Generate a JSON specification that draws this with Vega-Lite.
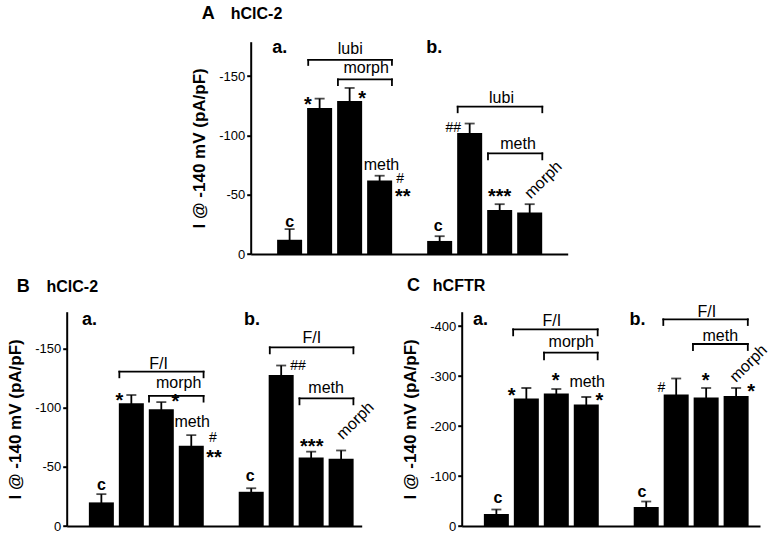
{
  "$schema": "https://vega.github.io/schema/vega-lite/v6.json",
  "autosize": {"type": "none"},
  "padding": {"left": 66.7, "top": 41.7, "right": 710.3, "bottom": 493.3},
  "background": "white",
  "bounds": "flush",
  "spacing": 270,
  "config": {
    "view": {"stroke": null},
    "font": "Liberation Sans",
    "axis": {"grid": false, "domainColor": "black", "domainWidth": 2, "tickColor": "black", "tickWidth": 2, "tickSize": 4, "labelColor": "black", "labelFontSize": 13, "labelPadding": 2, "titleColor": "black", "titleFontSize": 17, "titleFontWeight": "bold", "titlePadding": 10},
    "text": {"color": "black"}
  },
  "datasets": {
    "bars": [
      {"panel": "A", "group": "a", "treatment": "c", "slot": 0, "value": -12, "err": 9},
      {"panel": "A", "group": "a", "treatment": "lubi", "slot": 1, "value": -123, "err": 8},
      {"panel": "A", "group": "a", "treatment": "lubi+morph", "slot": 2, "value": -129, "err": 11},
      {"panel": "A", "group": "a", "treatment": "lubi+morph+meth", "slot": 3, "value": -62, "err": 4},
      {"panel": "A", "group": "b", "treatment": "c", "slot": 5, "value": -11, "err": 4},
      {"panel": "A", "group": "b", "treatment": "lubi", "slot": 6, "value": -102, "err": 8},
      {"panel": "A", "group": "b", "treatment": "lubi+meth", "slot": 7, "value": -37, "err": 5},
      {"panel": "A", "group": "b", "treatment": "lubi+meth+morph", "slot": 8, "value": -35, "err": 7},
      {"panel": "B", "group": "a", "treatment": "c", "slot": 0, "value": -20, "err": 7},
      {"panel": "B", "group": "a", "treatment": "F/I", "slot": 1, "value": -104, "err": 7},
      {"panel": "B", "group": "a", "treatment": "F/I+morph", "slot": 2, "value": -99, "err": 6},
      {"panel": "B", "group": "a", "treatment": "F/I+morph+meth", "slot": 3, "value": -68, "err": 9},
      {"panel": "B", "group": "b", "treatment": "c", "slot": 5, "value": -29, "err": 3},
      {"panel": "B", "group": "b", "treatment": "F/I", "slot": 6, "value": -128, "err": 8},
      {"panel": "B", "group": "b", "treatment": "F/I+meth", "slot": 7, "value": -58, "err": 5},
      {"panel": "B", "group": "b", "treatment": "F/I+meth+morph", "slot": 8, "value": -57, "err": 7},
      {"panel": "C", "group": "a", "treatment": "c", "slot": 0, "value": -24, "err": 9},
      {"panel": "C", "group": "a", "treatment": "F/I", "slot": 1, "value": -255, "err": 21},
      {"panel": "C", "group": "a", "treatment": "F/I+morph", "slot": 2, "value": -265, "err": 9},
      {"panel": "C", "group": "a", "treatment": "F/I+morph+meth", "slot": 3, "value": -243, "err": 15},
      {"panel": "C", "group": "b", "treatment": "c", "slot": 5, "value": -38, "err": 11},
      {"panel": "C", "group": "b", "treatment": "F/I", "slot": 6, "value": -263, "err": 32},
      {"panel": "C", "group": "b", "treatment": "F/I+meth", "slot": 7, "value": -257, "err": 19},
      {"panel": "C", "group": "b", "treatment": "F/I+meth+morph", "slot": 8, "value": -260, "err": 16}
    ],
    "brackets": [
      {"panel": "A", "x1": 0.62, "x2": 3.41, "y": -163.6, "yb": -159.4},
      {"panel": "A", "x1": 1.61, "x2": 3.41, "y": -147.3, "yb": -142.5},
      {"panel": "A", "x1": 5.6, "x2": 8.42, "y": -124.2, "yb": -119.5},
      {"panel": "A", "x1": 6.61, "x2": 8.42, "y": -84.9, "yb": -79.8},
      {"panel": "B", "x1": 0.6, "x2": 3.41, "y": -130.8, "yb": -126},
      {"panel": "B", "x1": 1.59, "x2": 3.41, "y": -110.2, "yb": -105.4},
      {"panel": "B", "x1": 5.62, "x2": 8.41, "y": -151.4, "yb": -146.3},
      {"panel": "B", "x1": 6.61, "x2": 8.41, "y": -108.2, "yb": -103.1},
      {"panel": "C", "x1": 0.56, "x2": 3.38, "y": -393.3, "yb": -381.3},
      {"panel": "C", "x1": 1.59, "x2": 3.38, "y": -346.7, "yb": -333.3},
      {"panel": "C", "x1": 5.57, "x2": 8.39, "y": -413.3, "yb": -402},
      {"panel": "C", "x1": 6.56, "x2": 8.39, "y": -364, "yb": -352}
    ],
    "notes": [
      {"panel": "A", "kind": "big", "text": "A", "x": -2.93, "y": -197.9},
      {"panel": "A", "kind": "sub", "text": "hClC-2", "x": -1.96, "y": -197.9},
      {"panel": "A", "kind": "big", "text": "a.", "x": -0.58, "y": -169.2},
      {"panel": "A", "kind": "big", "text": "b.", "x": 4.55, "y": -169.2},
      {"panel": "A", "kind": "c", "text": "c", "x": 0, "y": -22.8},
      {"panel": "A", "kind": "star", "text": "*", "x": 0.61, "y": -120.6},
      {"panel": "A", "kind": "star", "text": "*", "x": 2.42, "y": -125.9},
      {"panel": "A", "kind": "label", "text": "meth", "x": 3.06, "y": -70.8},
      {"panel": "A", "kind": "hash", "text": "#", "x": 3.68, "y": -59.9},
      {"panel": "A", "kind": "star", "text": "**", "x": 3.77, "y": -42.6},
      {"panel": "A", "kind": "label", "text": "lubi", "x": 2.02, "y": -168.6},
      {"panel": "A", "kind": "label", "text": "morph", "x": 2.55, "y": -152.4},
      {"panel": "A", "kind": "c", "text": "c", "x": 4.95, "y": -19.4},
      {"panel": "A", "kind": "hash", "text": "##", "x": 5.45, "y": -102.9},
      {"panel": "A", "kind": "label", "text": "lubi", "x": 7.06, "y": -127.6},
      {"panel": "A", "kind": "label", "text": "meth", "x": 7.61, "y": -88.3},
      {"panel": "A", "kind": "star", "text": "***", "x": 7.0, "y": -42.7},
      {"panel": "A", "kind": "rot", "text": "morph", "x": 8.45, "y": -62.4},
      {"panel": "B", "kind": "big", "text": "B", "x": -2.82, "y": -198.6},
      {"panel": "B", "kind": "sub", "text": "hClC-2", "x": -1.83, "y": -198.6},
      {"panel": "B", "kind": "big", "text": "a.", "x": -0.65, "y": -170.3},
      {"panel": "B", "kind": "big", "text": "b.", "x": 4.76, "y": -170.3},
      {"panel": "B", "kind": "c", "text": "c", "x": 0, "y": -30.5},
      {"panel": "B", "kind": "star", "text": "*", "x": 0.6, "y": -100.8},
      {"panel": "B", "kind": "label", "text": "F/I", "x": 1.91, "y": -133},
      {"panel": "B", "kind": "label", "text": "morph", "x": 2.58, "y": -116.7},
      {"panel": "B", "kind": "star", "text": "*", "x": 2.47, "y": -99.7},
      {"panel": "B", "kind": "label", "text": "meth", "x": 3.03, "y": -83.5},
      {"panel": "B", "kind": "hash", "text": "#", "x": 3.72, "y": -71.2},
      {"panel": "B", "kind": "star", "text": "**", "x": 3.76, "y": -52.3},
      {"panel": "B", "kind": "c", "text": "c", "x": 4.97, "y": -38.1},
      {"panel": "B", "kind": "label", "text": "F/I", "x": 7.02, "y": -154.8},
      {"panel": "B", "kind": "hash", "text": "##", "x": 6.56, "y": -132.2},
      {"panel": "B", "kind": "label", "text": "meth", "x": 7.5, "y": -112.4},
      {"panel": "B", "kind": "star", "text": "***", "x": 7.02, "y": -62.1},
      {"panel": "B", "kind": "rot", "text": "morph", "x": 8.47, "y": -89.2},
      {"panel": "C", "kind": "big", "text": "C", "x": -2.98, "y": -470.6},
      {"panel": "C", "kind": "sub", "text": "hCFTR", "x": -2.12, "y": -470.6},
      {"panel": "C", "kind": "big", "text": "a.", "x": -0.78, "y": -402},
      {"panel": "C", "kind": "big", "text": "b.", "x": 4.44, "y": -402},
      {"panel": "C", "kind": "c", "text": "c", "x": 0.05, "y": -45.3},
      {"panel": "C", "kind": "star", "text": "*", "x": 0.51, "y": -248},
      {"panel": "C", "kind": "label", "text": "F/I", "x": 1.85, "y": -400},
      {"panel": "C", "kind": "label", "text": "morph", "x": 2.5, "y": -357.3},
      {"panel": "C", "kind": "star", "text": "*", "x": 1.98, "y": -278},
      {"panel": "C", "kind": "label", "text": "meth", "x": 3.03, "y": -277.3},
      {"panel": "C", "kind": "star", "text": "*", "x": 3.44, "y": -238},
      {"panel": "C", "kind": "c", "text": "c", "x": 4.86, "y": -58.7},
      {"panel": "C", "kind": "hash", "text": "#", "x": 5.51, "y": -268.7},
      {"panel": "C", "kind": "label", "text": "F/I", "x": 7.02, "y": -418.7},
      {"panel": "C", "kind": "label", "text": "meth", "x": 7.47, "y": -370.7},
      {"panel": "C", "kind": "star", "text": "*", "x": 6.98, "y": -278},
      {"panel": "C", "kind": "rot", "text": "morph", "x": 8.41, "y": -325.3},
      {"panel": "C", "kind": "star", "text": "*", "x": 8.5, "y": -256.7}
    ]
  },
  "vconcat": [
    {
      "bounds": "flush",
      "spacing": 100,
      "hconcat": [
        {"width": 83.3, "height": 212.3, "data": {"values": [{}]}, "mark": {"type": "text", "text": ""}, "encoding": {}},
        {
          "width": 317, "height": 212.3,
          "resolve": {"axis": {"x": "independent", "y": "independent"}},
          "layer": [
            {"data": {"name": "bars"}, "transform": [{"filter": "datum.panel == 'A'"}], "mark": {"type": "bar", "width": 25, "color": "black"},
             "encoding": {"x": {"field": "slot", "type": "quantitative", "scale": {"domain": [-1.13, 9.1], "nice": false, "zero": false}, "axis": {"labels": false, "ticks": false, "title": null}},
                          "y": {"field": "value", "type": "quantitative", "scale": {"domain": [0, -179], "nice": false, "zero": false}, "axis": {"title": "I @ -140 mV (pA/pF)", "values": [0, -50, -100, -150], "labelExpr": "datum.value == 0 ? '0' : '-' + (-datum.value)"}}}},
            {"data": {"name": "bars"}, "transform": [{"filter": "datum.panel == 'A'"}], "mark": {"type": "errorbar", "ticks": true, "size": 10, "thickness": 1.8, "color": "black"},
             "encoding": {"x": {"field": "slot", "type": "quantitative", "axis": null}, "y": {"field": "value", "type": "quantitative", "axis": null}, "yError": {"field": "err"}}},
            {"data": {"name": "brackets"}, "transform": [{"filter": "datum.panel == 'A'"}], "mark": {"type": "rule", "color": "black", "strokeWidth": 1.8, "strokeCap": "square"},
             "encoding": {"x": {"field": "x1", "type": "quantitative", "axis": null}, "x2": {"field": "x2"}, "y": {"field": "y", "type": "quantitative", "axis": null}}},
            {"data": {"name": "brackets"}, "transform": [{"filter": "datum.panel == 'A'"}], "mark": {"type": "rule", "color": "black", "strokeWidth": 1.8, "strokeCap": "square"},
             "encoding": {"x": {"field": "x1", "type": "quantitative", "axis": null}, "y": {"field": "y", "type": "quantitative", "axis": null}, "y2": {"field": "yb"}}},
            {"data": {"name": "brackets"}, "transform": [{"filter": "datum.panel == 'A'"}], "mark": {"type": "rule", "color": "black", "strokeWidth": 1.8, "strokeCap": "square"},
             "encoding": {"x": {"field": "x2", "type": "quantitative", "axis": null}, "y": {"field": "y", "type": "quantitative", "axis": null}, "y2": {"field": "yb"}}},
            {"data": {"name": "notes"}, "transform": [{"filter": "datum.panel == 'A' && datum.kind == 'big'"}], "mark": {"type": "text", "fontSize": 18, "fontWeight": "bold", "align": "left", "baseline": "alphabetic"},
             "encoding": {"x": {"field": "x", "type": "quantitative", "axis": null}, "y": {"field": "y", "type": "quantitative", "axis": null}, "text": {"field": "text"}}},
            {"data": {"name": "notes"}, "transform": [{"filter": "datum.panel == 'A' && datum.kind == 'sub'"}], "mark": {"type": "text", "fontSize": 16, "fontWeight": "bold", "align": "left", "baseline": "alphabetic"},
             "encoding": {"x": {"field": "x", "type": "quantitative", "axis": null}, "y": {"field": "y", "type": "quantitative", "axis": null}, "text": {"field": "text"}}},
            {"data": {"name": "notes"}, "transform": [{"filter": "datum.panel == 'A' && datum.kind == 'label'"}], "mark": {"type": "text", "fontSize": 16, "align": "center", "baseline": "alphabetic"},
             "encoding": {"x": {"field": "x", "type": "quantitative", "axis": null}, "y": {"field": "y", "type": "quantitative", "axis": null}, "text": {"field": "text"}}},
            {"data": {"name": "notes"}, "transform": [{"filter": "datum.panel == 'A' && datum.kind == 'rot'"}], "mark": {"type": "text", "fontSize": 16, "align": "center", "baseline": "middle", "angle": 315},
             "encoding": {"x": {"field": "x", "type": "quantitative", "axis": null}, "y": {"field": "y", "type": "quantitative", "axis": null}, "text": {"field": "text"}}},
            {"data": {"name": "notes"}, "transform": [{"filter": "datum.panel == 'A' && datum.kind == 'c'"}], "mark": {"type": "text", "fontSize": 16, "fontWeight": "bold", "align": "center", "baseline": "alphabetic"},
             "encoding": {"x": {"field": "x", "type": "quantitative", "axis": null}, "y": {"field": "y", "type": "quantitative", "axis": null}, "text": {"field": "text"}}},
            {"data": {"name": "notes"}, "transform": [{"filter": "datum.panel == 'A' && datum.kind == 'star'"}], "mark": {"type": "text", "fontSize": 20, "fontWeight": "bold", "align": "center", "baseline": "alphabetic"},
             "encoding": {"x": {"field": "x", "type": "quantitative", "axis": null}, "y": {"field": "y", "type": "quantitative", "axis": null}, "text": {"field": "text"}}},
            {"data": {"name": "notes"}, "transform": [{"filter": "datum.panel == 'A' && datum.kind == 'hash'"}], "mark": {"type": "text", "fontSize": 14, "align": "center", "baseline": "alphabetic"},
             "encoding": {"x": {"field": "x", "type": "quantitative", "axis": null}, "y": {"field": "y", "type": "quantitative", "axis": null}, "text": {"field": "text"}}}
          ]
        }
      ]
    },
    {
      "bounds": "flush",
      "spacing": 100,
      "hconcat": [
        {
          "width": 295, "height": 214.3,
          "resolve": {"axis": {"x": "independent", "y": "independent"}},
          "layer": [
            {"data": {"name": "bars"}, "transform": [{"filter": "datum.panel == 'B'"}], "mark": {"type": "bar", "width": 25, "color": "black"},
             "encoding": {"x": {"field": "slot", "type": "quantitative", "scale": {"domain": [-0.99, 8.52], "nice": false, "zero": false}, "axis": {"labels": false, "ticks": false, "title": null}},
                          "y": {"field": "value", "type": "quantitative", "scale": {"domain": [0, -181.6], "nice": false, "zero": false}, "axis": {"title": "I @ -140 mV (pA/pF)", "values": [0, -50, -100, -150], "labelExpr": "datum.value == 0 ? '0' : '-' + (-datum.value)"}}}},
            {"data": {"name": "bars"}, "transform": [{"filter": "datum.panel == 'B'"}], "mark": {"type": "errorbar", "ticks": true, "size": 10, "thickness": 1.8, "color": "black"},
             "encoding": {"x": {"field": "slot", "type": "quantitative", "axis": null}, "y": {"field": "value", "type": "quantitative", "axis": null}, "yError": {"field": "err"}}},
            {"data": {"name": "brackets"}, "transform": [{"filter": "datum.panel == 'B'"}], "mark": {"type": "rule", "color": "black", "strokeWidth": 1.8, "strokeCap": "square"},
             "encoding": {"x": {"field": "x1", "type": "quantitative", "axis": null}, "x2": {"field": "x2"}, "y": {"field": "y", "type": "quantitative", "axis": null}}},
            {"data": {"name": "brackets"}, "transform": [{"filter": "datum.panel == 'B'"}], "mark": {"type": "rule", "color": "black", "strokeWidth": 1.8, "strokeCap": "square"},
             "encoding": {"x": {"field": "x1", "type": "quantitative", "axis": null}, "y": {"field": "y", "type": "quantitative", "axis": null}, "y2": {"field": "yb"}}},
            {"data": {"name": "brackets"}, "transform": [{"filter": "datum.panel == 'B'"}], "mark": {"type": "rule", "color": "black", "strokeWidth": 1.8, "strokeCap": "square"},
             "encoding": {"x": {"field": "x2", "type": "quantitative", "axis": null}, "y": {"field": "y", "type": "quantitative", "axis": null}, "y2": {"field": "yb"}}},
            {"data": {"name": "notes"}, "transform": [{"filter": "datum.panel == 'B' && datum.kind == 'big'"}], "mark": {"type": "text", "fontSize": 18, "fontWeight": "bold", "align": "left", "baseline": "alphabetic"},
             "encoding": {"x": {"field": "x", "type": "quantitative", "axis": null}, "y": {"field": "y", "type": "quantitative", "axis": null}, "text": {"field": "text"}}},
            {"data": {"name": "notes"}, "transform": [{"filter": "datum.panel == 'B' && datum.kind == 'sub'"}], "mark": {"type": "text", "fontSize": 16, "fontWeight": "bold", "align": "left", "baseline": "alphabetic"},
             "encoding": {"x": {"field": "x", "type": "quantitative", "axis": null}, "y": {"field": "y", "type": "quantitative", "axis": null}, "text": {"field": "text"}}},
            {"data": {"name": "notes"}, "transform": [{"filter": "datum.panel == 'B' && datum.kind == 'label'"}], "mark": {"type": "text", "fontSize": 16, "align": "center", "baseline": "alphabetic"},
             "encoding": {"x": {"field": "x", "type": "quantitative", "axis": null}, "y": {"field": "y", "type": "quantitative", "axis": null}, "text": {"field": "text"}}},
            {"data": {"name": "notes"}, "transform": [{"filter": "datum.panel == 'B' && datum.kind == 'rot'"}], "mark": {"type": "text", "fontSize": 16, "align": "center", "baseline": "middle", "angle": 315},
             "encoding": {"x": {"field": "x", "type": "quantitative", "axis": null}, "y": {"field": "y", "type": "quantitative", "axis": null}, "text": {"field": "text"}}},
            {"data": {"name": "notes"}, "transform": [{"filter": "datum.panel == 'B' && datum.kind == 'c'"}], "mark": {"type": "text", "fontSize": 16, "fontWeight": "bold", "align": "center", "baseline": "alphabetic"},
             "encoding": {"x": {"field": "x", "type": "quantitative", "axis": null}, "y": {"field": "y", "type": "quantitative", "axis": null}, "text": {"field": "text"}}},
            {"data": {"name": "notes"}, "transform": [{"filter": "datum.panel == 'B' && datum.kind == 'star'"}], "mark": {"type": "text", "fontSize": 20, "fontWeight": "bold", "align": "center", "baseline": "alphabetic"},
             "encoding": {"x": {"field": "x", "type": "quantitative", "axis": null}, "y": {"field": "y", "type": "quantitative", "axis": null}, "text": {"field": "text"}}},
            {"data": {"name": "notes"}, "transform": [{"filter": "datum.panel == 'B' && datum.kind == 'hash'"}], "mark": {"type": "text", "fontSize": 14, "align": "center", "baseline": "alphabetic"},
             "encoding": {"x": {"field": "x", "type": "quantitative", "axis": null}, "y": {"field": "y", "type": "quantitative", "axis": null}, "text": {"field": "text"}}}
          ]
        },
        {
          "width": 298.3, "height": 214.3,
          "resolve": {"axis": {"x": "independent", "y": "independent"}},
          "layer": [
            {"data": {"name": "bars"}, "transform": [{"filter": "datum.panel == 'C'"}], "mark": {"type": "bar", "width": 25, "color": "black"},
             "encoding": {"x": {"field": "slot", "type": "quantitative", "scale": {"domain": [-0.99, 8.63], "nice": false, "zero": false}, "axis": {"labels": false, "ticks": false, "title": null}},
                          "y": {"field": "value", "type": "quantitative", "scale": {"domain": [0, -428.6], "nice": false, "zero": false}, "axis": {"title": "I @ -140 mV (pA/pF)", "values": [0, -100, -200, -300, -400], "labelExpr": "datum.value == 0 ? '0' : '-' + (-datum.value)"}}}},
            {"data": {"name": "bars"}, "transform": [{"filter": "datum.panel == 'C'"}], "mark": {"type": "errorbar", "ticks": true, "size": 10, "thickness": 1.8, "color": "black"},
             "encoding": {"x": {"field": "slot", "type": "quantitative", "axis": null}, "y": {"field": "value", "type": "quantitative", "axis": null}, "yError": {"field": "err"}}},
            {"data": {"name": "brackets"}, "transform": [{"filter": "datum.panel == 'C'"}], "mark": {"type": "rule", "color": "black", "strokeWidth": 1.8, "strokeCap": "square"},
             "encoding": {"x": {"field": "x1", "type": "quantitative", "axis": null}, "x2": {"field": "x2"}, "y": {"field": "y", "type": "quantitative", "axis": null}}},
            {"data": {"name": "brackets"}, "transform": [{"filter": "datum.panel == 'C'"}], "mark": {"type": "rule", "color": "black", "strokeWidth": 1.8, "strokeCap": "square"},
             "encoding": {"x": {"field": "x1", "type": "quantitative", "axis": null}, "y": {"field": "y", "type": "quantitative", "axis": null}, "y2": {"field": "yb"}}},
            {"data": {"name": "brackets"}, "transform": [{"filter": "datum.panel == 'C'"}], "mark": {"type": "rule", "color": "black", "strokeWidth": 1.8, "strokeCap": "square"},
             "encoding": {"x": {"field": "x2", "type": "quantitative", "axis": null}, "y": {"field": "y", "type": "quantitative", "axis": null}, "y2": {"field": "yb"}}},
            {"data": {"name": "notes"}, "transform": [{"filter": "datum.panel == 'C' && datum.kind == 'big'"}], "mark": {"type": "text", "fontSize": 18, "fontWeight": "bold", "align": "left", "baseline": "alphabetic"},
             "encoding": {"x": {"field": "x", "type": "quantitative", "axis": null}, "y": {"field": "y", "type": "quantitative", "axis": null}, "text": {"field": "text"}}},
            {"data": {"name": "notes"}, "transform": [{"filter": "datum.panel == 'C' && datum.kind == 'sub'"}], "mark": {"type": "text", "fontSize": 16, "fontWeight": "bold", "align": "left", "baseline": "alphabetic"},
             "encoding": {"x": {"field": "x", "type": "quantitative", "axis": null}, "y": {"field": "y", "type": "quantitative", "axis": null}, "text": {"field": "text"}}},
            {"data": {"name": "notes"}, "transform": [{"filter": "datum.panel == 'C' && datum.kind == 'label'"}], "mark": {"type": "text", "fontSize": 16, "align": "center", "baseline": "alphabetic"},
             "encoding": {"x": {"field": "x", "type": "quantitative", "axis": null}, "y": {"field": "y", "type": "quantitative", "axis": null}, "text": {"field": "text"}}},
            {"data": {"name": "notes"}, "transform": [{"filter": "datum.panel == 'C' && datum.kind == 'rot'"}], "mark": {"type": "text", "fontSize": 16, "align": "center", "baseline": "middle", "angle": 315},
             "encoding": {"x": {"field": "x", "type": "quantitative", "axis": null}, "y": {"field": "y", "type": "quantitative", "axis": null}, "text": {"field": "text"}}},
            {"data": {"name": "notes"}, "transform": [{"filter": "datum.panel == 'C' && datum.kind == 'c'"}], "mark": {"type": "text", "fontSize": 16, "fontWeight": "bold", "align": "center", "baseline": "alphabetic"},
             "encoding": {"x": {"field": "x", "type": "quantitative", "axis": null}, "y": {"field": "y", "type": "quantitative", "axis": null}, "text": {"field": "text"}}},
            {"data": {"name": "notes"}, "transform": [{"filter": "datum.panel == 'C' && datum.kind == 'star'"}], "mark": {"type": "text", "fontSize": 20, "fontWeight": "bold", "align": "center", "baseline": "alphabetic"},
             "encoding": {"x": {"field": "x", "type": "quantitative", "axis": null}, "y": {"field": "y", "type": "quantitative", "axis": null}, "text": {"field": "text"}}},
            {"data": {"name": "notes"}, "transform": [{"filter": "datum.panel == 'C' && datum.kind == 'hash'"}], "mark": {"type": "text", "fontSize": 14, "align": "center", "baseline": "alphabetic"},
             "encoding": {"x": {"field": "x", "type": "quantitative", "axis": null}, "y": {"field": "y", "type": "quantitative", "axis": null}, "text": {"field": "text"}}}
          ]
        }
      ]
    }
  ]
}
